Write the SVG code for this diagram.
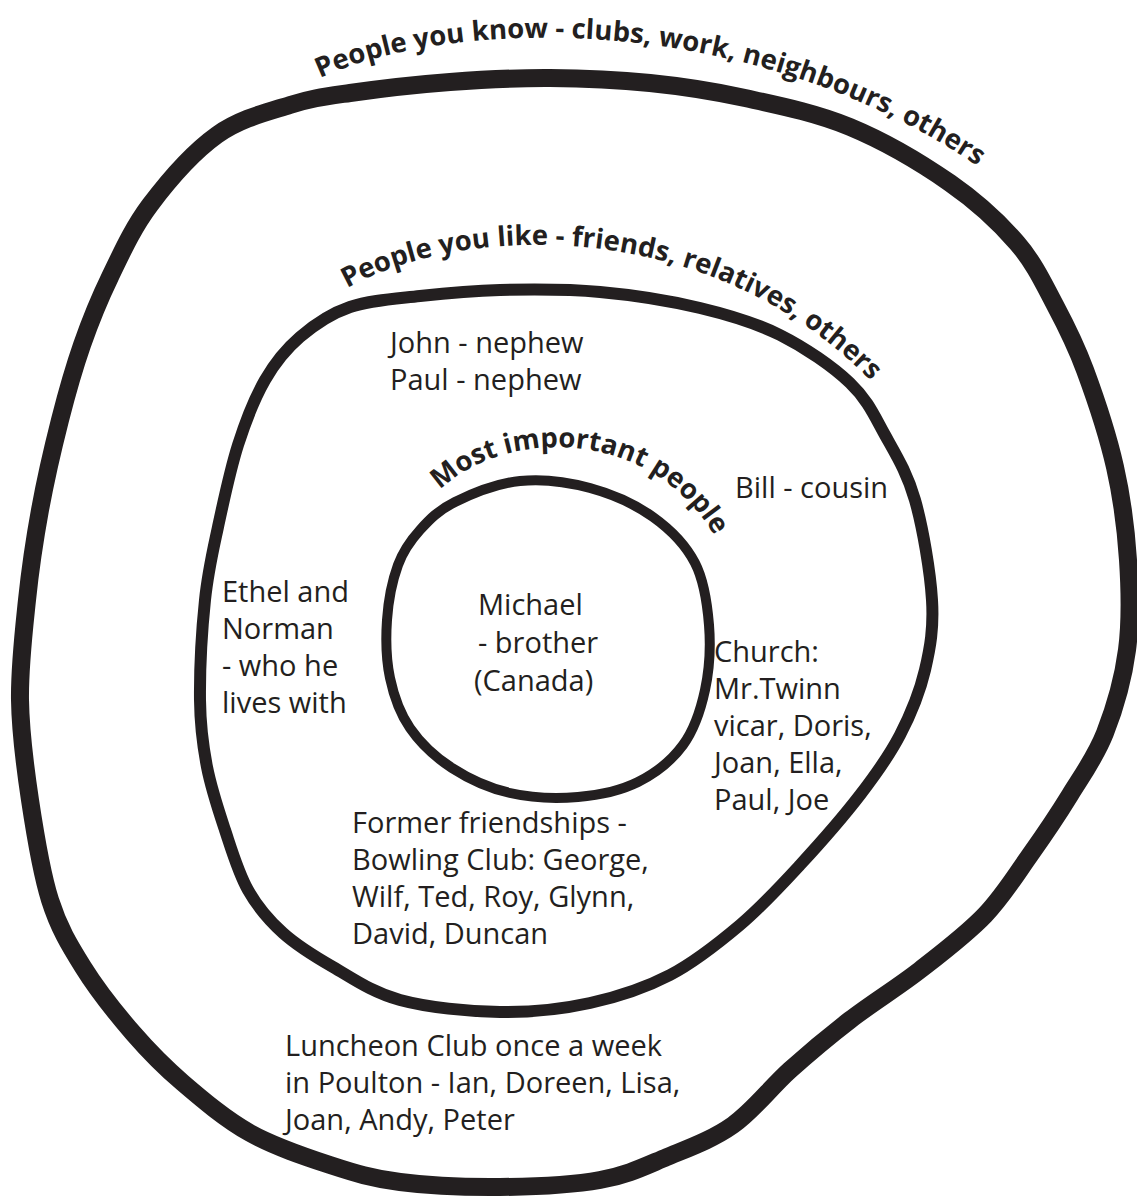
<svg xmlns="http://www.w3.org/2000/svg" width="1137" height="1201" viewBox="0 0 1137 1201">
<style>
.loop{fill:none;stroke:#231f20;stroke-linejoin:round;stroke-linecap:round}
.lbl{font-family:"Open Sans","Noto Sans",sans-serif;font-weight:bold;font-size:27.5px;fill:#231f20}
.t{font-family:"Open Sans","Noto Sans",sans-serif;font-size:29px;fill:#231f20}
</style>
<defs>
<path id="arcOuter" d="M320,78 C450,18 760,5 1000,182"/>
<path id="arcMiddle" d="M347,288 C470,220 730,215 890,402"/>
<path id="arcInner" d="M440,490 C510,422 680,425 732,574"/>
</defs>
<rect width="1137" height="1201" fill="#ffffff"/>
<g id="ring-outer">
<path class="loop" stroke-width="18" d="M350,93 C376.7,89.2 416.7,84.5 450,82 S516.7,77.8 550,78 S617.5,79.7 650,83 S711.7,90.7 745,98 S815.8,112.8 850,127 S922.2,163.7 950,183 S999.5,222.7 1017,243 S1043.7,283.8 1055,305 S1075,343 1085,370 S1107.8,435.3 1115,467 S1126,529.5 1128,560 S1130.8,621.2 1127,650 S1114.5,708.8 1105,733 S1082.5,774.7 1070,795 S1044.2,835 1030,855 S1003.3,895.8 985,915 S942.5,952.5 920,970 S871.7,1003.3 850,1020 S809.5,1052.5 790,1070 S753.5,1110.5 733,1125 S689.2,1147.8 667,1157 S627.8,1175 600,1180 S533.3,1186.7 500,1187 S428.3,1185.7 400,1182 S355,1173.2 330,1165 S274.5,1146.7 250,1133 S202.5,1099.7 183,1083 S149.7,1052.3 133,1033 S96.8,989.2 83,967 S58.8,927.8 50,900 S35,833.3 30,800 S20.5,733.3 20,700 S23.7,631.7 27,600 S34.5,540 40,510 S53,447.5 60,420 S73.7,368.8 82,345 S98.7,300.3 110,277 S132.2,228.7 150,205 S193.7,151.7 217,135 S267.8,112 290,105 S323.3,96.8 350,93 Z"/>
<text class="lbl"><textPath href="#arcOuter">People you know - clubs, work, neighbours, others</textPath></text>
<text class="t" x="285" y="1056">Luncheon Club once a week</text>
<text class="t" x="285" y="1093">in Poulton - Ian, Doreen, Lisa,</text>
<text class="t" x="285" y="1130">Joan, Andy, Peter</text>
</g>
<g id="ring-middle">
<path class="loop" stroke-width="12" d="M350,307 C370,300.2 395,298.8 420,296 S470,290.7 500,290 S566.7,289 600,292 S670,300.8 700,308 S755,322.5 780,335 S832.5,366.3 850,383 S874.2,415.5 885,435 S907.2,472.5 915,500 S930.3,571.7 932,600 S930.3,647.5 925,670 S910.8,714.2 900,735 S876.7,773.3 860,795 S820,843.3 800,865 S761.7,906.7 740,925 S695,962 670,975 S618.3,996.8 590,1003 S531.7,1012.5 500,1012 S427.8,1007.5 400,1000 S352.5,978.2 333,967 S297.2,945.8 283,933 S257.7,907.2 248,890 S231.8,850.5 225,830 S211.2,788.7 207,767 S200.3,727.8 200,700 S202,628.8 205,600 S212.5,552.8 218,527 S230.2,469.5 238,445 S254.7,398 265,380 S285.8,349.2 300,337 S330,313.8 350,307 Z"/>
<text class="lbl"><textPath href="#arcMiddle">People you like - friends, relatives, others</textPath></text>
<text class="t" x="390" y="353">John - nephew</text>
<text class="t" x="390" y="390">Paul - nephew</text>
<text class="t" x="735" y="498">Bill - cousin</text>
<text class="t" x="222" y="602">Ethel and</text>
<text class="t" x="222" y="639">Norman</text>
<text class="t" x="222" y="676">- who he</text>
<text class="t" x="222" y="713">lives with</text>
<text class="t" x="714" y="662">Church:</text>
<text class="t" x="714" y="699">Mr.Twinn</text>
<text class="t" x="714" y="736">vicar, Doris,</text>
<text class="t" x="714" y="773">Joan, Ella,</text>
<text class="t" x="714" y="810">Paul, Joe</text>
<text class="t" x="352" y="833">Former friendships -</text>
<text class="t" x="352" y="870">Bowling Club: George,</text>
<text class="t" x="352" y="907">Wilf, Ted, Roy, Glynn,</text>
<text class="t" x="352" y="944">David, Duncan</text>
</g>
<g id="ring-inner">
<path class="loop" stroke-width="10" d="M420,530 C429.5,519.5 438.3,510.2 455,502 S497.5,483.3 520,481 S567.8,482 590,488 S635.5,504.5 653,517 S685.7,545 695,563 S707.3,603.8 709,625 S709.3,670 705,690 S694.2,729.7 683,745 S655.5,773.3 638,782 S599.3,795.2 578,797 S531,797.8 510,793 S468.7,778.8 452,768 S420.3,743 410,728 S393.8,696 390,678 S385.7,638.8 387,620 S392.5,580 398,565 S410.5,540.5 420,530 Z"/>
<text class="lbl"><textPath href="#arcInner">Most important people</textPath></text>
<text class="t" x="478" y="615">Michael</text>
<text class="t" x="478" y="653">- brother</text>
<text class="t" x="474" y="691">(Canada)</text>
</g>
<g id="connectors"/>
</svg>
